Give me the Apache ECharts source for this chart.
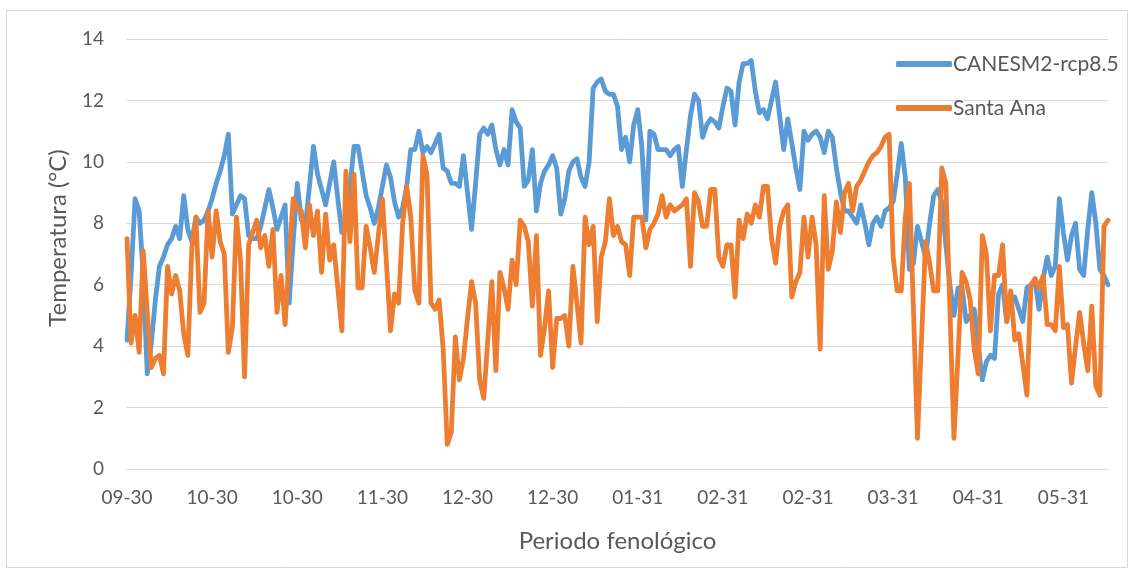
<!DOCTYPE html>
<html>
<head>
<meta charset="utf-8">
<script src="https://cdn.jsdelivr.net/npm/echarts@6/dist/echarts.min.js"></script>
<style>
  html, body { margin: 0; padding: 0; background: #ffffff; }
  #chart { width: 1136px; height: 574px; }
</style>
</head>
<body>
<div id="chart"></div>
<script>
// Tick labels shown along the phenological period axis (one every 21 days)
const tickLabels = ['09-30', '10-30', '10-30', '11-30', '12-30', '12-30',
                    '01-31', '02-31', '02-31', '03-31', '04-31', '05-31'];
const labelStep = 21;

// Daily mean temperature (°C), projected model CANESM2 under RCP 8.5
const canesm2 = [
  4.2, 6.3, 8.8, 8.4, 6.3, 3.1, 4.1, 5.5, 6.6, 6.9,
  7.3, 7.5, 7.9, 7.5, 8.9, 7.8, 7.4, 8.2, 8.0, 8.1,
  8.4, 8.8, 9.3, 9.7, 10.2, 10.9, 8.3, 8.6, 8.9, 8.8,
  7.6, 7.5, 7.5, 7.9, 8.5, 9.1, 8.5, 7.8, 8.2, 8.6,
  5.4, 7.4, 9.3, 8.1, 7.9, 9.2, 10.5, 9.6, 9.1, 8.6,
  9.3, 10.0, 8.8, 7.7, 7.8, 9.2, 10.5, 10.5, 9.7, 8.9,
  8.5, 8.0, 8.5, 9.2, 9.9, 9.5, 8.7, 8.2, 8.5, 9.2,
  10.4, 10.4, 11.0, 10.3, 10.5, 10.3, 10.6, 10.9, 9.8, 9.7,
  9.3, 9.3, 9.2, 10.2, 9.0, 7.8, 9.3, 10.9, 11.1, 10.9,
  11.2, 10.4, 9.9, 10.4, 9.9, 11.7, 11.3, 11.1, 9.2, 9.4,
  10.4, 8.4, 9.3, 9.7, 9.9, 10.2, 9.8, 8.3, 8.8, 9.7,
  10.0, 10.1, 9.5, 9.2, 10.0, 12.4, 12.6, 12.7, 12.3, 12.2,
  12.2, 11.8, 10.4, 10.8, 10.0, 11.2, 11.7, 10.5, 8.1, 11.0,
  10.9, 10.4, 10.4, 10.4, 10.2, 10.4, 10.5, 9.2, 10.4, 11.5,
  12.2, 12.0, 10.8, 11.2, 11.4, 11.3, 11.1, 11.8, 12.4, 12.3,
  11.2, 12.6, 13.2, 13.2, 13.3, 12.3, 11.6, 11.7, 11.4, 12.0,
  12.6, 11.5, 10.4, 11.4, 10.6, 9.8, 9.1, 11.0, 10.7, 10.9,
  11.0, 10.8, 10.3, 11.0, 10.8, 9.8, 9.0, 8.4, 8.4, 8.2,
  8.0, 8.6, 8.0, 7.3, 8.0, 8.2, 7.9, 8.4, 8.5, 8.7,
  9.6, 10.6, 9.5, 6.5, 6.7, 7.9, 7.4, 6.9, 8.0, 8.9,
  9.1, 8.7, 7.3, 6.0, 5.0, 5.9, 5.9, 4.8, 5.0, 5.2,
  4.0, 2.9, 3.5, 3.7, 3.6, 5.7, 6.0, 4.8, 5.6, 5.6,
  5.2, 4.8, 5.9, 6.0, 6.1, 5.2, 6.2, 6.9, 6.3, 6.6,
  8.8, 7.7, 6.8, 7.6, 8.0, 6.5, 6.3, 7.8, 9.0, 8.0,
  6.5, 6.3, 6.0
];

// Daily mean temperature (°C) observed at Santa Ana
const santaAna = [
  7.5, 4.1, 5.0, 3.8, 7.1, 5.1, 3.3, 3.6, 3.7, 3.1,
  6.6, 5.7, 6.3, 5.8, 4.4, 3.7, 7.2, 8.2, 5.1, 5.4,
  8.4, 6.9, 8.4, 7.4, 7.0, 3.8, 4.6, 8.2, 6.8, 3.0,
  7.3, 7.7, 8.1, 7.2, 7.6, 6.6, 7.8, 5.1, 6.3, 4.7,
  6.9, 8.8, 8.5, 8.4, 7.2, 8.6, 7.6, 8.4, 6.4, 8.3,
  6.8, 7.3, 5.9, 4.5, 9.7, 7.4, 9.6, 5.9, 5.9, 7.9,
  7.2, 6.4, 7.6, 8.8, 6.7, 4.5, 5.7, 5.4, 8.0, 9.2,
  8.2, 5.8, 5.4, 10.2, 9.6, 5.4, 5.2, 5.5, 3.9, 0.8,
  1.2, 4.3, 2.9, 3.6, 4.9, 6.1, 5.4, 2.9, 2.3, 4.2,
  6.1, 3.2, 6.4, 5.9, 5.2, 6.8, 6.0, 8.1, 7.9, 7.4,
  5.3, 7.6, 3.7, 4.6, 5.8, 3.3, 4.9, 4.9, 5.0, 4.0,
  6.6, 5.4, 4.1, 8.2, 7.3, 7.9, 4.8, 6.9, 7.4, 8.8,
  7.6, 7.9, 7.4, 7.3, 6.3, 8.2, 8.2, 8.2, 7.2, 7.8,
  8.0, 8.3, 8.9, 8.2, 8.6, 8.4, 8.5, 8.6, 8.8, 6.6,
  9.0, 8.7, 7.9, 7.9, 9.1, 9.1, 6.9, 6.6, 7.3, 7.3,
  5.6, 8.1, 7.5, 8.3, 8.0, 8.6, 8.2, 9.2, 9.2, 7.5,
  6.7, 7.9, 8.4, 8.6, 5.6, 6.1, 6.4, 8.2, 6.9, 8.2,
  7.3, 3.9, 8.9, 6.5, 7.1, 8.7, 7.7, 9.0, 9.3, 8.4,
  9.2, 9.4, 9.7, 10.0, 10.2, 10.3, 10.5, 10.8, 10.9, 6.9,
  5.8, 5.8, 8.2, 9.3, 5.2, 1.0, 4.2, 7.4, 6.7, 5.8,
  5.8, 9.8, 9.3, 5.2, 1.0, 3.7, 6.4, 6.1, 5.5, 3.9,
  3.1, 7.6, 7.0, 4.5, 6.3, 6.3, 7.3, 4.8, 5.8, 4.2,
  4.4, 3.4, 2.4, 6.0, 6.2, 5.9, 6.3, 4.7, 4.7, 4.5,
  6.6, 4.6, 4.7, 2.8, 4.0, 5.1, 4.1, 3.2, 5.3, 2.7,
  2.4, 7.9, 8.1
];

// One category per day; only every 21st day carries a visible label
const categories = canesm2.map((_, i) =>
  i % labelStep === 0 ? (tickLabels[i / labelStep] || '') : ''
);

const textColor = '#595959';
const gridColor = '#D9D9D9';
const fontFamily = 'Lato, "Open Sans", sans-serif';

const chart = echarts.init(document.getElementById('chart'), null, { renderer: 'canvas' });

chart.setOption({
  backgroundColor: '#ffffff',
  animation: false,
  textStyle: { fontFamily: fontFamily, color: textColor },
  grid: { left: 127, right: 28, top: 39, bottom: 105, containLabel: false },
  legend: {
    orient: 'vertical',
    left: 891,
    top: 47,
    icon: 'roundRect',
    itemWidth: 56,
    itemHeight: 6,
    itemGap: 20,
    textStyle: { fontFamily: fontFamily, fontSize: 21, color: textColor, lineHeight: 24, padding: [0, 0, 0, -4] },
    data: ['CANESM2-rcp8.5', 'Santa Ana']
  },
  xAxis: {
    type: 'category',
    data: categories,
    boundaryGap: false,
    axisLine: { show: true, lineStyle: { color: gridColor, width: 1 } },
    axisTick: { show: false },
    axisLabel: {
      interval: labelStep - 1,
      color: textColor,
      fontFamily: fontFamily,
      fontSize: 19,
      margin: 19
    },
    splitLine: { show: false },
    name: 'Periodo fenológico',
    nameLocation: 'middle',
    nameGap: 60,
    nameTextStyle: { fontFamily: fontFamily, fontSize: 24, color: textColor }
  },
  yAxis: {
    type: 'value',
    min: 0,
    max: 14,
    interval: 2,
    axisLine: { show: false },
    axisTick: { show: false },
    axisLabel: { color: textColor, fontFamily: fontFamily, fontSize: 19, margin: 23 },
    splitLine: { show: true, lineStyle: { color: gridColor, width: 1 } }
  },
  graphic: [
    {
      type: 'rect',
      silent: true,
      shape: { x: 6.5, y: 10.5, width: 1121, height: 557 },
      style: { fill: 'none', stroke: gridColor, lineWidth: 1 }
    },
    {
      type: 'text',
      silent: true,
      x: 58,
      y: 238,
      rotation: Math.PI / 2,
      style: {
        text: 'Temperatura (°C)',
        fill: textColor,
        font: '24px ' + fontFamily,
        align: 'center',
        verticalAlign: 'middle'
      }
    }
  ],
  series: [
    {
      name: 'CANESM2-rcp8.5',
      type: 'line',
      data: canesm2,
      showSymbol: false,
      symbol: 'none',
      lineStyle: { color: '#5B9BD5', width: 4.8, cap: 'round', join: 'round' },
      itemStyle: { color: '#5B9BD5' }
    },
    {
      name: 'Santa Ana',
      type: 'line',
      data: santaAna,
      showSymbol: false,
      symbol: 'none',
      lineStyle: { color: '#ED7D31', width: 4.8, cap: 'round', join: 'round' },
      itemStyle: { color: '#ED7D31' }
    }
  ]
});
</script>
</body>
</html>
